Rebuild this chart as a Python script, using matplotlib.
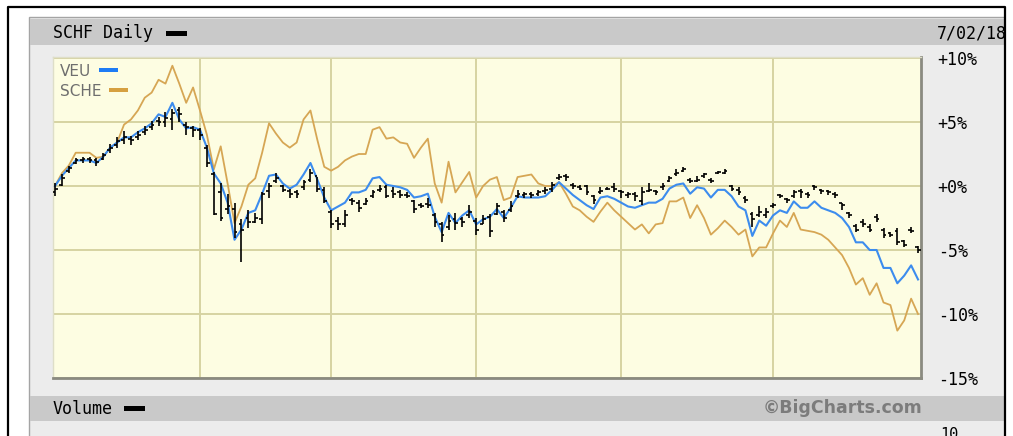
import matplotlib.pyplot as plt
from matplotlib.patches import Rectangle

W, H = 1013, 436

# % change since Jan 2, one value per trading day (Jan 2 .. Jul 2 2018)
veu = [0.0, 0.8, 1.4, 2.0, 2.0, 2.0, 1.8, 2.3, 3.0, 3.4,
       3.8, 3.8, 4.2, 4.5, 4.9, 5.6, 5.4, 6.5, 5.2, 4.5,
       4.6, 4.4, 3.0, 1.0, 0.2, -1.3, -4.2, -3.4, -2.1, -1.9,
       -0.6, 0.8, 0.9, 0.2, -0.2, 0.1, 0.9, 1.8, 0.5, -0.9,
       -1.9, -1.6, -1.3, -0.5, -0.5, -0.3, 0.6, 0.7, 0.1, 0.0,
       -0.1, -0.3, -0.9, -0.8, -0.6, -2.4, -3.6, -2.1, -2.9, -2.3,
       -1.9, -3.0, -2.6, -2.4, -1.8, -2.5, -1.7, -0.8, -0.9, -0.9,
       -0.9, -0.8, -0.3, 0.3, -0.2, -0.7, -1.1, -1.5, -1.8, -0.9,
       -0.8, -1.0, -1.3, -1.6, -1.7, -1.5, -1.3, -1.3, -1.0, -0.2,
       0.1, 0.2, -0.6, -0.1, -0.2, -0.9, -0.3, -0.3, -0.8, -1.6,
       -1.9, -3.9, -2.7, -3.1, -2.3, -1.9, -2.1, -1.2, -1.7, -1.7,
       -1.2, -1.7, -1.9, -2.1, -2.5, -3.2, -4.4, -4.4, -5.0, -5.0,
       -6.4, -6.4, -7.6, -7.0, -6.2, -7.3]

sche = [0.0, 1.0, 1.6, 2.6, 2.6, 2.6, 2.2, 2.3, 3.0, 3.4,
        4.8, 5.2, 5.9, 6.9, 7.3, 8.3, 8.0, 9.4, 8.0, 6.5,
        7.7, 5.9, 4.0, 1.3, 3.1, 0.2, -2.9, -1.6, 0.1, 0.6,
        2.6, 4.9, 4.1, 3.4, 3.0, 3.4, 5.2, 5.9, 3.6, 1.5,
        1.2, 1.5, 2.0, 2.3, 2.5, 2.5, 4.4, 4.6, 3.7, 3.8,
        3.4, 3.3, 2.2, 3.0, 3.7, 0.2, -1.3, 1.9, -0.5, 0.3,
        1.1, -0.9, 0.0, 0.5, 0.7, -1.1, -0.9, 0.7, 0.8, 0.9,
        0.2, 0.0, 0.0, 0.3, -0.6, -1.6, -1.9, -2.4, -2.8, -2.0,
        -1.3, -1.9, -2.4, -2.9, -3.4, -3.0, -3.7, -3.0, -2.9, -1.2,
        -1.2, -0.9, -2.5, -1.5, -2.5, -3.8, -3.3, -2.7, -3.2, -3.8,
        -3.4, -5.5, -4.8, -4.8, -3.7, -2.7, -3.2, -2.1, -3.4, -3.5,
        -3.6, -3.8, -4.2, -4.8, -5.4, -6.4, -7.7, -7.2, -8.5, -7.6,
        -9.1, -9.3, -11.3, -10.5, -8.8, -10.0]

schf_open = [-0.5, 0.1, 1.2, 1.8, 2.0, 2.1, 2.0, 2.1, 2.8, 3.2,
             3.6, 3.7, 3.8, 4.2, 4.6, 5.1, 5.0, 5.2, 5.9, 4.8,
             4.5, 4.4, 3.0, 0.9, -0.5, -1.8, -1.8, -3.0, -2.5, -2.8,
             -2.6, -0.4, 0.4, 0.0, -0.4, -0.5, -0.1, 0.5, 0.8, -0.3,
             -2.0, -2.7, -3.0, -1.1, -1.3, -1.4, -0.8, -0.3, -0.1, -0.4,
             -0.5, -0.7, -1.2, -1.5, -1.4, -2.3, -3.0, -3.2, -2.6, -2.6,
             -2.3, -2.7, -3.0, -2.4, -2.2, -2.0, -1.9, -0.8, -0.7, -0.6,
             -0.6, -0.4, -0.2, 0.6, 0.8, 0.1, -0.1, 0.0, -0.8, -0.5,
             -0.2, -0.1, -0.4, -0.7, -0.6, -1.2, -0.4, -0.4, -0.1, 0.4,
             0.9, 1.2, 0.5, 0.4, 0.8, 0.5, 1.0, 1.0, 0.0, -0.3,
             -0.9, -2.2, -2.3, -2.3, -1.6, -0.7, -1.0, -0.8, -0.4, -0.6,
             0.0, -0.3, -0.4, -0.6, -1.3, -2.1, -3.1, -2.8, -3.2, -2.4,
             -3.4, -3.7, -3.5, -4.3, -3.4, -4.8]

schf_high = [0.2, 0.9, 1.6, 2.2, 2.3, 2.3, 2.2, 2.6, 3.3, 3.8,
             4.3, 3.9, 4.3, 4.7, 5.1, 5.4, 5.8, 6.0, 6.2, 5.0,
             4.7, 4.5, 3.2, 1.1, 0.2, -0.6, -1.3, -2.6, -1.9, -2.1,
             -0.5, 0.2, 1.0, 0.1, -0.2, -0.3, 0.5, 1.3, 0.7, -0.1,
             -1.9, -2.4, -1.9, -0.9, -1.1, -0.9, -0.3, 0.1, 0.1, -0.1,
             -0.3, -0.5, -1.1, -1.3, -0.9, -2.1, -2.8, -2.3, -2.1, -2.4,
             -1.5, -2.5, -2.3, -2.2, -1.3, -1.9, -1.2, -0.3, -0.5, -0.5,
             -0.3, -0.1, 0.3, 0.9, 0.9, 0.2, 0.1, 0.1, -0.7, -0.1,
             -0.1, 0.2, -0.3, -0.5, -0.5, -0.1, 0.2, -0.3, 0.2, 0.8,
             1.3, 1.5, 0.6, 0.8, 1.0, 0.6, 1.2, 1.3, 0.1, -0.1,
             -0.8, -2.0, -1.6, -1.7, -1.3, -0.6, -0.9, -0.3, -0.2, -0.5,
             0.1, -0.2, -0.3, -0.5, -1.3, -2.0, -3.0, -2.6, -3.0, -2.2,
             -3.3, -3.6, -3.3, -4.2, -3.2, -4.7]

schf_low = [-0.8, 0.0, 1.0, 1.7, 1.8, 1.8, 1.6, 2.0, 2.6, 3.0,
            3.3, 3.2, 3.6, 4.0, 4.4, 4.7, 4.6, 4.4, 5.0, 4.0,
            3.8, 3.6, 1.5, -2.3, -2.7, -2.2, -4.1, -5.9, -3.3, -2.9,
            -3.0, -0.9, 0.2, -0.5, -0.9, -0.9, -0.3, 0.3, -0.5, -1.3,
            -3.3, -3.4, -3.2, -1.5, -2.0, -1.5, -0.9, -0.5, -0.9, -0.9,
            -0.9, -0.9, -2.1, -1.7, -1.7, -3.2, -4.4, -3.4, -3.4, -3.2,
            -2.5, -3.8, -3.0, -4.0, -2.3, -2.8, -2.0, -0.9, -0.9, -0.9,
            -0.8, -0.6, -0.5, 0.5, 0.4, -0.2, -0.3, -0.7, -1.4, -0.6,
            -0.3, -0.5, -0.9, -0.9, -1.2, -1.5, -0.5, -0.7, -0.3, 0.3,
            0.8, 1.1, 0.2, 0.3, 0.6, 0.2, 0.9, 0.9, -0.4, -0.7,
            -1.3, -3.2, -2.4, -2.5, -1.7, -0.9, -1.3, -0.9, -0.9, -0.9,
            -0.3, -0.6, -0.7, -0.9, -1.9, -2.5, -3.6, -3.2, -3.6, -2.8,
            -4.1, -4.0, -4.6, -4.8, -3.7, -5.2]

schf_close = [-0.2, 0.6, 1.4, 2.0, 2.1, 2.0, 1.9, 2.4, 3.0, 3.5,
              3.8, 3.6, 4.0, 4.4, 4.8, 5.0, 5.3, 5.7, 5.6, 4.6,
              4.4, 4.0, 1.8, -2.2, -2.5, -1.6, -3.6, -3.4, -2.8, -2.5,
              -0.6, 0.0, 0.6, -0.3, -0.6, -0.6, 0.3, 1.0, -0.2, -1.2,
              -3.0, -3.0, -2.3, -1.2, -1.7, -1.2, -0.5, -0.2, -0.8, -0.6,
              -0.7, -0.8, -1.8, -1.6, -1.5, -2.8, -3.8, -2.7, -2.9, -2.8,
              -2.0, -3.4, -2.6, -3.5, -1.6, -2.5, -1.6, -0.6, -0.6, -0.7,
              -0.5, -0.3, 0.1, 0.7, 0.7, 0.0, -0.2, -0.5, -1.1, -0.4,
              -0.2, -0.2, -0.5, -0.6, -0.8, -0.5, -0.3, -0.5, 0.0, 0.6,
              1.0, 1.3, 0.4, 0.5, 0.9, 0.4, 1.1, 1.2, -0.2, -0.5,
              -1.1, -2.6, -2.0, -2.0, -1.5, -0.8, -1.1, -0.5, -0.5, -0.7,
              -0.1, -0.4, -0.5, -0.7, -1.5, -2.3, -3.4, -3.0, -3.4, -2.6,
              -3.8, -3.8, -4.4, -4.6, -3.5, -5.0]

month_starts = [21, 40, 61, 82, 104]   # Feb 1, Mar 1, Apr 2, May 1, Jun 1
pct_ticks = [10, 5, 0, -5, -10, -15]
pct_labels = ['+10%', '+5%', '+0%', '-5%', '-10%', '-15%']

MONO = 'DejaVu Sans Mono'


def px_axes(x0, y0, x1, y1):
    return fig.add_axes([x0 / W, 1 - y1 / H, (x1 - x0) / W, (y1 - y0) / H])


fig = plt.figure(figsize=(W / 100, H / 100), dpi=100)

# background frame, panels and bars in pixel coords
bg = fig.add_axes([0, 0, 1, 1])
bg.set_xlim(0, W)
bg.set_ylim(H, 0)
bg.axis('off')
bg.add_patch(Rectangle((29, 17), 976, 430, fc='#ececec', ec='#a4a4a4', lw=1))
bg.add_patch(Rectangle((30, 19), 975, 26, fc='#c9c9c9', ec='none'))
bg.add_patch(Rectangle((30, 396), 975, 25, fc='#c9c9c9', ec='none'))
bg.text(53, 33, 'SCHF Daily', family=MONO, fontsize=12, va='center')
bg.add_patch(Rectangle((166, 31), 21, 5, fc='black'))
bg.text(937, 33, '7/02/18', family=MONO, fontsize=12, va='center')
bg.text(53, 409, 'Volume', family=MONO, fontsize=12, va='center')
bg.add_patch(Rectangle((124, 406), 21, 5, fc='black'))
bg.text(922, 408, '\u00a9BigCharts.com', ha='right', va='center',
        fontsize=12.5, fontweight='bold', color='#7c7c7c')
bg.text(940, 427, '10', family=MONO, fontsize=11, va='top')
# white strip past the outer border hides the clipped end of the date
bg.add_patch(Rectangle((1005, 0), 10, H, fc='white', ec='none', zorder=5))
bg.plot([8, 8, 1005, 1005], [440, 7, 7, 440], color='black', lw=1.6, zorder=6)

# main price chart
ax = px_axes(53, 57, 921, 378)
ax.set_facecolor('#fdfde2')
days = range(len(veu))
ax.set_xlim(-0.29, 125.43)
ax.set_ylim(-15, 10.08)

for m in month_starts:
    ax.axvline(m, color='#d6d3a2', lw=1.4, zorder=1)
for t in pct_ticks:
    ax.axhline(t, color='#d6d3a2', lw=1.4, zorder=1)

ax.plot(days, sche, color='#d6a654', lw=1.3, zorder=2)
ax.plot(days, veu, color='#3c8cee', lw=1.5, zorder=3)

ax.vlines(days, schf_low, schf_high, color='black', lw=1.2, zorder=4)
ax.hlines(schf_open, [d - 0.4 for d in days], days, color='black', lw=1.2, zorder=4)
ax.hlines(schf_close, days, [d + 0.4 for d in days], color='black', lw=1.2, zorder=4)

ax.set_xticks([])
ax.yaxis.tick_right()
ax.set_yticks(pct_ticks, pct_labels)
ax.tick_params(axis='y', length=0, pad=12, labelsize=12)
for lab in ax.get_yticklabels():
    lab.set_family(MONO)

for side in ['left', 'top']:
    ax.spines[side].set_color('#dedec8')
    ax.spines[side].set_linewidth(1)
for side in ['right', 'bottom']:
    ax.spines[side].set_color('#8a8a80')
    ax.spines[side].set_linewidth(2)

# legend overlay
fg = fig.add_axes([0, 0, 1, 1])
fg.set_xlim(0, W)
fg.set_ylim(H, 0)
fg.axis('off')
fg.text(60, 71, 'VEU', color='#6e6e6e', fontsize=11, va='center')
fg.add_patch(Rectangle((99, 68), 19, 4, fc='#1e7cf5'))
fg.text(60, 91, 'SCHE', color='#6e6e6e', fontsize=11, va='center')
fg.add_patch(Rectangle((109, 88), 19, 4, fc='#d6a040'))

fig.savefig('out.png', dpi=100)
